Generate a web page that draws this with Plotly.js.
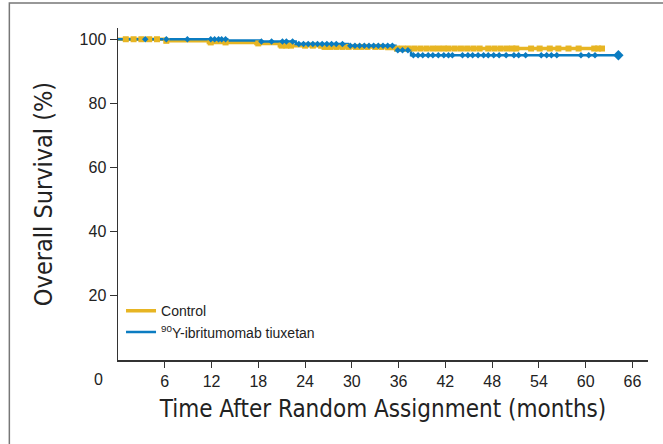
<!DOCTYPE html>
<html>
<head>
<meta charset="utf-8">
<script src="https://cdn.plot.ly/plotly-3.0.1.min.js"></script>
<style>html,body{margin:0;padding:0;background:#fff;}#chart{width:663px;height:444px;}</style>
</head>
<body>
<div id="chart"></div>
<script>
// Kaplan-Meier step data (months, % surviving)
const controlTime = [0, 6.1, 11.6, 17.7, 20.7, 25.9, 34.5, 62.1];
const controlSurv = [100, 99.5, 99.0, 98.7, 98.0, 97.6, 97.1, 97.1];
const ibritTime = [0, 14.0, 18.3, 22.8, 29.5, 35.6, 37.6, 64.2];
const ibritSurv = [100, 99.6, 99.3, 98.5, 98.0, 96.6, 95.0, 95.0];

// censoring times (months)
const controlCensor = [1, 2, 3, 4, 5, 6.2, 11.9, 13.8, 18.0, 21.0, 21.6, 22.2, 24, 25, 26.5, 27.2, 28, 28.8, 29.6, 30.5, 31.2, 32, 33, 33.8, 35.8, 36.5, 37.2, 38, 38.8, 39.6, 40.4, 41.1, 41.8, 42.4, 43.2, 44, 44.8, 45.6, 46.4, 47.5, 48.3, 49.1, 49.9, 50.6, 51.1, 53.0, 54.1, 55.4, 56.5, 57.8, 59.1, 61.1, 61.6, 62.1];
const ibritCensor = [3.5, 6.2, 8.9, 11.9, 12.4, 12.9, 13.3, 13.8, 18.4, 19.7, 21.1, 21.6, 22.4, 23.2, 23.8, 24.4, 25, 25.6, 26.2, 26.8, 27.4, 28, 28.8, 29.8, 30.4, 31, 31.6, 32.2, 32.8, 33.4, 34, 34.6, 35.2, 35.9, 36.5, 37.2, 37.9, 38.5, 39.1, 39.8, 40.4, 41.1, 41.8, 42.4, 42.9, 44.2, 44.9, 45.5, 46.2, 46.9, 47.5, 48.2, 48.9, 49.8, 50.8, 51.4, 52.3, 54.3, 55.0, 55.6, 56.3, 59.4, 60.4, 61.2];

const xTicks = [6, 12, 18, 24, 30, 36, 42, 48, 54, 60, 66];
const yTicks = [20, 40, 60, 80, 100];
const xZeroLabel = '0';

const ctrlColor = '#E7B523';
const ibritColor = '#0B7CC1';
const titleFont = 'DejaVu Sans Condensed, Liberation Sans Narrow, sans-serif';

function stepAt(times, surv, t) {
  let v = surv[0];
  for (let i = 0; i < times.length; i++) { if (times[i] <= t) v = surv[i]; }
  return v;
}

const traces = [
  {x: controlTime, y: controlSurv, type: 'scatter', mode: 'lines', name: 'Control',
   line: {color: ctrlColor, width: 3.5, shape: 'hv'}},
  {x: ibritTime, y: ibritSurv, type: 'scatter', mode: 'lines', name: '<sup>90</sup>Y-ibritumomab tiuxetan',
   line: {color: ibritColor, width: 2.5, shape: 'hv'}},
  {x: controlCensor, y: controlCensor.map(t => stepAt(controlTime, controlSurv, t)), type: 'scatter', mode: 'markers',
   showlegend: false, hoverinfo: 'skip', marker: {symbol: 'square', size: 6, color: ctrlColor}},
  {x: ibritCensor, y: ibritCensor.map(t => stepAt(ibritTime, ibritSurv, t)), type: 'scatter', mode: 'markers',
   showlegend: false, hoverinfo: 'skip', marker: {symbol: 'diamond', size: 5, color: ibritColor}},
  {x: [ibritTime[ibritTime.length - 1]], y: [ibritSurv[ibritSurv.length - 1]], type: 'scatter', mode: 'markers',
   showlegend: false, hoverinfo: 'skip', marker: {symbol: 'diamond', size: 8, color: ibritColor}}
];

const layout = {
  width: 663, height: 444,
  margin: {l: 118, r: 15, t: 28, b: 84},
  paper_bgcolor: '#fff', plot_bgcolor: '#fff',
  font: {family: 'Liberation Sans, Arial, sans-serif', color: '#222'},
  showlegend: true,
  legend: {x: 0.0057, y: 0.195, xanchor: 'left', yanchor: 'top', bgcolor: 'rgba(0,0,0,0)',
           font: {size: 14, color: '#222'}, itemwidth: 30, tracegroupgap: 0},
  xaxis: {range: [0, 68], tickvals: xTicks, ticktext: xTicks.map(String), ticks: 'outside', ticklen: 6,
          tickcolor: '#333', tickwidth: 1, showline: true, linecolor: '#333', linewidth: 1.5,
          showgrid: false, zeroline: false, tickfont: {size: 16, color: '#222'},
          title: {text: 'Time After Random Assignment (months)', font: {family: titleFont, size: 24, color: '#222'}, standoff: 11}},
  yaxis: {range: [0, 103.5], tickvals: yTicks, ticktext: yTicks.map(String), ticks: 'outside', ticklen: 7,
          tickcolor: '#333', tickwidth: 1, showline: true, linecolor: '#333', linewidth: 1.5,
          showgrid: false, zeroline: false, tickfont: {size: 16, color: '#222'},
          title: {text: 'Overall Survival (%)', font: {family: titleFont, size: 25, color: '#222'}, standoff: 20}},
  annotations: [
    {x: -0.036, y: 0, xref: 'paper', yref: 'paper', text: xZeroLabel, showarrow: false, yanchor: 'top', xanchor: 'center',
     yshift: -9, font: {size: 16, color: '#222'}}
  ],
  shapes: [
    {type: 'rect', xref: 'paper', yref: 'paper', x0: -0.205, x1: 1.2, y0: -0.4, y1: 1.075,
     line: {color: '#777', width: 1.5}, fillcolor: 'rgba(0,0,0,0)', layer: 'below'}
  ]
};

Plotly.newPlot('chart', traces, layout, {displayModeBar: false, staticPlot: true});
</script>
</body>
</html>
